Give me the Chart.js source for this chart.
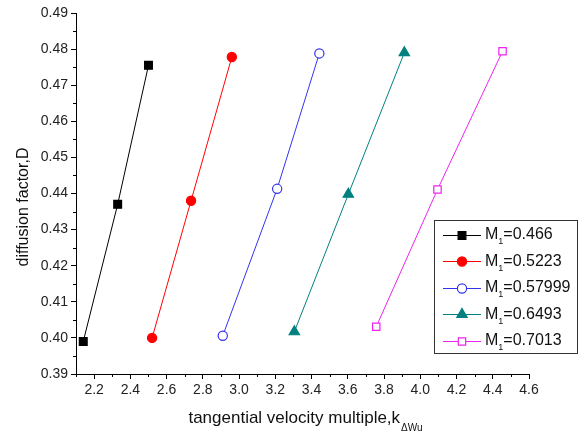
<!DOCTYPE html>
<html>
<head>
<meta charset="utf-8">
<script src="https://cdn.jsdelivr.net/npm/chart.js@4/dist/chart.umd.min.js"></script>
<style>
  body { margin: 0; background: #fff; }
  canvas { display: block; }
</style>
</head>
<body>
<canvas id="myChart" width="580" height="434"></canvas>
<script>
// values
const machNumbers = ["0.466", "0.5223", "0.57999", "0.6493", "0.7013"];
const kBlack = [2.14, 2.33, 2.50];
const dBlack = [0.399, 0.437, 0.4755];
const kRed = [2.52, 2.735, 2.96];
const dRed = [0.400, 0.438, 0.4778];
const kBlue = [2.91, 3.21, 3.443];
const dBlue = [0.4006, 0.4413, 0.4788];
const kTeal = [3.305, 3.603, 3.912];
const dTeal = [0.4017, 0.4398, 0.4790];
const kMagenta = [3.757, 4.095, 4.454];
const dMagenta = [0.4031, 0.4411, 0.4794];

const xTickValues = [2.2, 2.4, 2.6, 2.8, 3.0, 3.2, 3.4, 3.6, 3.8, 4.0, 4.2, 4.4, 4.6];
const xTickLabels = ["2.2", "2.4", "2.6", "2.8", "3.0", "3.2", "3.4", "3.6", "3.8", "4.0", "4.2", "4.4", "4.6"];
const yTickValues = [0.39, 0.40, 0.41, 0.42, 0.43, 0.44, 0.45, 0.46, 0.47, 0.48, 0.49];
const yTickLabels = ["0.39", "0.40", "0.41", "0.42", "0.43", "0.44", "0.45", "0.46", "0.47", "0.48", "0.49"];
const xMinorTicks = [2.1, 2.3, 2.5, 2.7, 2.9, 3.1, 3.3, 3.5, 3.7, 3.9, 4.1, 4.3, 4.5];
const yMinorTicks = [0.395, 0.405, 0.415, 0.425, 0.435, 0.445, 0.455, 0.465, 0.475, 0.485];

const FONT = "'Liberation Sans', Arial, sans-serif";

function pts(xs, ys) {
  return xs.map((x, i) => ({ x: x, y: ys[i] }));
}

function series(i, xs, ys, color, style, radius, filled) {
  return {
    label: "M\u2081=" + machNumbers[i],
    data: pts(xs, ys),
    showLine: true,
    borderColor: color,
    borderWidth: 1,
    pointStyle: style,
    pointRadius: radius,
    pointBorderWidth: 1.2,
    pointBorderColor: color,
    pointBackgroundColor: filled ? color : "#ffffff",
  };
}

const datasets = [
  series(0, kBlack, dBlack, "#000000", "rect", 5.5, true),
  series(1, kRed, dRed, "#ff0000", "circle", 4.6, true),
  series(2, kBlue, dBlue, "#3333ee", "circle", 4.6, false),
  series(3, kTeal, dTeal, "#008080", "triangle", 6, true),
  series(4, kMagenta, dMagenta, "#ee22ee", "rect", 5.2, false),
];

// minor ticks, axis titles and the boxed legend
const extras = {
  id: "extras",
  afterDraw(chart) {
    const ctx = chart.ctx;
    const xs = chart.scales.x, ys = chart.scales.y;
    const area = chart.chartArea;
    ctx.save();
    ctx.strokeStyle = "#000";
    ctx.lineWidth = 1;
    ctx.beginPath();
    xMinorTicks.forEach(v => {
      const px = Math.round(xs.getPixelForValue(v)) + 0.5;
      ctx.moveTo(px, area.bottom);
      ctx.lineTo(px, area.bottom + 3);
    });
    yMinorTicks.forEach(v => {
      const py = Math.round(ys.getPixelForValue(v)) + 0.5;
      ctx.moveTo(area.left - 3, py);
      ctx.lineTo(area.left, py);
    });
    ctx.stroke();

    // axis titles
    ctx.fillStyle = "#111";
    ctx.font = "17px " + FONT;
    ctx.textBaseline = "alphabetic";
    const main = "tangential velocity multiple,k";
    const w1 = ctx.measureText(main).width;
    ctx.font = "10px " + FONT;
    const w2 = ctx.measureText("\u0394Wu").width;
    let tx = 305 - (w1 + w2) / 2;
    ctx.font = "17px " + FONT;
    ctx.textAlign = "left";
    ctx.fillText(main, tx, 423);
    ctx.font = "10px " + FONT;
    ctx.fillText("\u0394Wu", tx + w1 + 1, 431);

    ctx.save();
    ctx.translate(28, 207);
    ctx.rotate(-Math.PI / 2);
    ctx.font = "16px " + FONT;
    ctx.textAlign = "center";
    ctx.fillText("diffusion factor,D", 0, 0);
    ctx.restore();

    // legend
    const bx = 434, by = 220, bw = 143, bh = 133;
    ctx.fillStyle = "#fff";
    ctx.fillRect(bx, by, bw, bh);
    ctx.strokeStyle = "#333";
    ctx.strokeRect(bx + 0.5, by + 0.5, bw, bh);
    chart.data.datasets.forEach((ds, i) => {
      const ry = 235 + i * 26.4;
      ctx.strokeStyle = ds.borderColor;
      ctx.lineWidth = 1;
      ctx.beginPath();
      ctx.moveTo(443, Math.round(ry) + 0.5);
      ctx.lineTo(481, Math.round(ry) + 0.5);
      ctx.stroke();
      ctx.fillStyle = ds.pointBackgroundColor;
      ctx.strokeStyle = ds.pointBorderColor;
      ctx.lineWidth = ds.pointBorderWidth;
      Chart.helpers.drawPoint(ctx, {
        pointStyle: ds.pointStyle, radius: ds.pointRadius, rotation: 0, borderWidth: ds.pointBorderWidth
      }, 462, Math.round(ry) + 0.5);
      ctx.fillStyle = "#111";
      ctx.textAlign = "left";
      ctx.textBaseline = "middle";
      ctx.font = "16px " + FONT;
      ctx.fillText("M", 485, ry);
      const mw = ctx.measureText("M").width;
      ctx.font = "9px " + FONT;
      ctx.fillText("1", 485 + mw, ry + 7);
      ctx.font = "16px " + FONT;
      ctx.fillText("=" + machNumbers[i], 485 + mw + 5, ry);
    });
    ctx.restore();
  }
};

new Chart(document.getElementById("myChart"), {
  type: "scatter",
  data: { datasets: datasets },
  options: {
    responsive: false,
    animation: false,
    layout: { padding: { top: 13, right: 51, left: 0, bottom: 0 } },
    plugins: { legend: { display: false }, tooltip: { enabled: false } },
    scales: {
      x: {
        type: "linear",
        min: 2.1,
        max: 4.6,
        afterBuildTicks: s => { s.ticks = xTickValues.map(v => ({ value: v })); },
        afterFit: s => { s.height = 60; },
        grid: { drawOnChartArea: false, drawTicks: true, tickLength: 5, color: "#000" },
        border: { display: true, color: "#000", width: 1 },
        ticks: {
          padding: 3,
          color: "#222",
          font: { family: FONT, size: 14 },
          maxRotation: 0,
          callback: v => { const i = xTickValues.findIndex(t => Math.abs(t - v) < 1e-6); return i >= 0 ? xTickLabels[i] : ""; }
        }
      },
      y: {
        type: "linear",
        min: 0.39,
        max: 0.49,
        afterBuildTicks: s => { s.ticks = yTickValues.map(v => ({ value: v })); },
        afterFit: s => { s.width = 76; },
        grid: { drawOnChartArea: false, drawTicks: true, tickLength: 5, color: "#000" },
        border: { display: true, color: "#000", width: 1 },
        ticks: {
          padding: 3,
          color: "#222",
          font: { family: FONT, size: 14 },
          callback: v => { const i = yTickValues.findIndex(t => Math.abs(t - v) < 1e-6); return i >= 0 ? yTickLabels[i] : ""; }
        }
      }
    }
  },
  plugins: [extras]
});
</script>
</body>
</html>
